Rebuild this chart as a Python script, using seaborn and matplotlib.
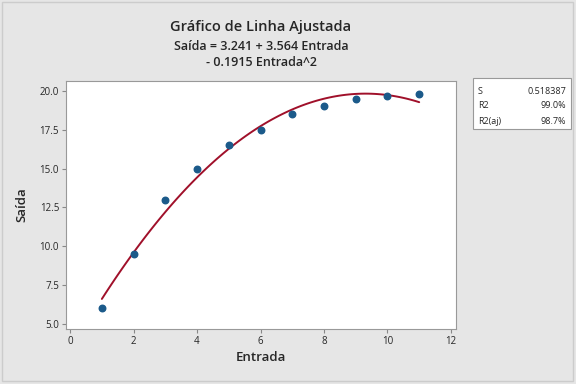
import numpy as np
import pandas as pd
import matplotlib
matplotlib.use("Agg")
import matplotlib.pyplot as plt
import seaborn as sns
from matplotlib.patches import Rectangle

entrada = [1, 2, 3, 4, 5, 6, 7, 8, 9, 10, 11]
saida = [6.0, 9.5, 13.0, 15.0, 16.5, 17.5, 18.5, 19.0, 19.5, 19.7, 19.8]
stat_names = ["S", "R2", "R2(aj)"]
stat_values = ["0.518387", "99.0%", "98.7%"]

sns.set_style("ticks")
plt.rcParams['font.family'] = ['Open Sans', 'DejaVu Sans']

df = pd.DataFrame({"Entrada": entrada, "Saída": saida})

bg = "#e6e6e6"
fig = plt.figure(figsize=(5.76, 3.84), dpi=100, facecolor=bg)
ax = fig.add_axes([66 / 576, 1 - 329 / 384, 390 / 576, 248 / 384])
ax.set_facecolor("white")

sns.regplot(data=df, x="Entrada", y="Saída", order=2, ci=None, ax=ax,
            scatter_kws={"color": "#1b5a8a", "s": 22, "alpha": 1, "zorder": 3},
            line_kws={"color": "#a0102a", "lw": 1.4, "zorder": 2})

ax.set_xlim(-0.13, 12.16)
ax.set_ylim(4.68, 20.64)
ax.set_xticks([0, 2, 4, 6, 8, 10, 12])
ax.set_yticks([5.0, 7.5, 10.0, 12.5, 15.0, 17.5, 20.0])
ax.set_yticklabels(["5.0", "7.5", "10.0", "12.5", "15.0", "17.5", "20.0"])
ax.tick_params(labelsize=7, length=3, color="#888888", width=0.8, pad=2)
for s in ax.spines.values():
    s.set_color("#999999")
    s.set_linewidth(0.8)
ax.set_xlabel("Entrada", fontsize=9.5, labelpad=3, fontweight="semibold")
ax.set_ylabel("Saída", fontsize=9.5, labelpad=8, fontweight="semibold")

fig.text(261 / 576, 1 - 27 / 384, "Gráfico de Linha Ajustada", ha="center",
         va="center", fontsize=10.5, fontweight="semibold")
fig.text(261 / 576, 1 - 46 / 384, "Saída = 3.241 + 3.564 Entrada", ha="center",
         va="center", fontsize=9, fontweight="semibold")
fig.text(261 / 576, 1 - 63 / 384, "- 0.1915 Entrada^2", ha="center",
         va="center", fontsize=9, fontweight="semibold")

# stats box
fig.patches.append(Rectangle((473 / 576, 1 - 129 / 384), 98 / 576, 51 / 384,
                             transform=fig.transFigure, facecolor="white",
                             edgecolor="#999999", lw=0.8))
for i, (n, v) in enumerate(zip(stat_names, stat_values)):
    yy = 1 - (91 + i * 15) / 384
    fig.text(478 / 576, yy, n, fontsize=6.5, va="center", ha="left")
    fig.text(566 / 576, yy, v, fontsize=6.5, va="center", ha="right")

# outer border
fig.patches.append(Rectangle((2 / 576, 3 / 384), 571 / 576, 379 / 384,
                             transform=fig.transFigure, facecolor="none",
                             edgecolor="#cccccc", lw=1))

fig.savefig("out.png", dpi=100, facecolor=bg)
